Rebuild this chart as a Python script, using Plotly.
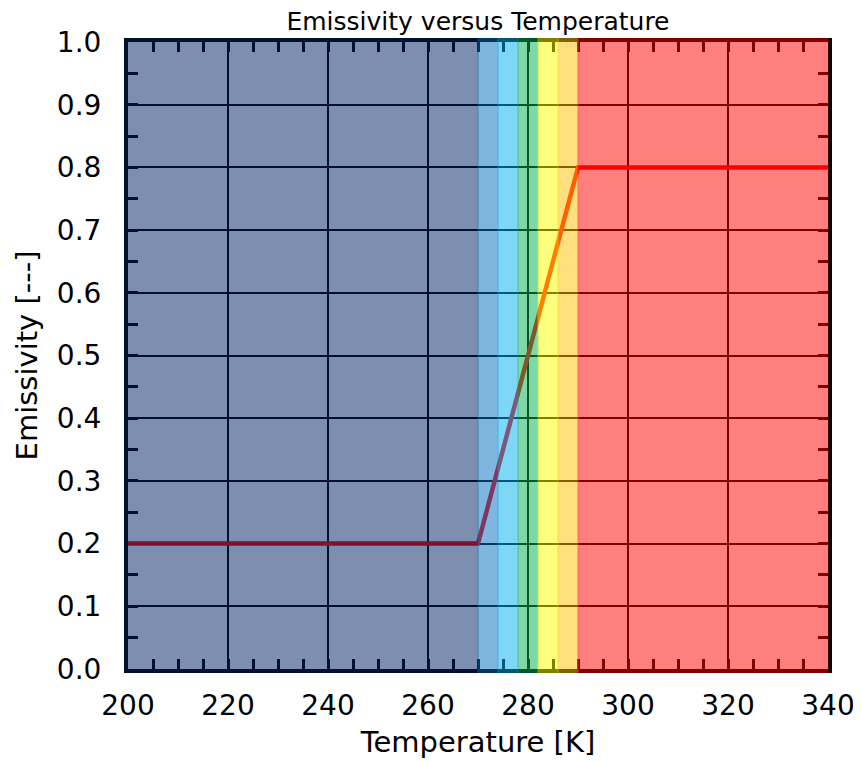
import plotly.graph_objects as go

# ---- data ----
temperature = [200, 270, 290, 340]
emissivity = [0.2, 0.2, 0.8, 0.8]

band_edges = [200, 270, 274, 278, 282, 286, 290, 340]
band_colors = ["#002060", "#0070C0", "#00B0F0", "#00B050", "#FFFF00", "#FFC000", "#FF0000"]

x_range = [200, 340]
y_range = [0.0, 1.0]
x_ticks = [200, 220, 240, 260, 280, 300, 320, 340]
y_ticks = [0.0, 0.1, 0.2, 0.3, 0.4, 0.5, 0.6, 0.7, 0.8, 0.9, 1.0]

FONT = "DejaVu Sans"
W, H = 861, 761
M = dict(l=120, r=41, t=34, b=100)
LW = 4
plot_w = W - M["l"] - M["r"]
plot_h = H - M["t"] - M["b"]

fig = go.Figure()
fig.add_trace(go.Scatter(x=temperature, y=emissivity, mode="lines",
                         line=dict(color="#FF0000", width=4.5),
                         showlegend=False, hoverinfo="skip", cliponaxis=False))

span = x_range[1] - x_range[0]
def xfrac(v):
    return (v - x_range[0]) / span

pad_x = (LW - 0.5) / plot_w
pad_y = (LW - 0.5) / plot_h
for i, c in enumerate(band_colors):
    x0 = xfrac(band_edges[i])
    x1 = xfrac(band_edges[i + 1])
    if i == 0:
        x0 -= pad_x
    fig.add_shape(type="rect", xref="paper", yref="paper",
                  x0=x0, x1=x1, y0=-pad_y, y1=1 + pad_y,
                  fillcolor=c, opacity=0.5, layer="above",
                  line=dict(color=c, width=1))

axis_common = dict(
    showline=True, linecolor="black", linewidth=LW, mirror="ticks",
    ticks="inside", ticklen=10, tickwidth=2.5, tickcolor="black",
    showgrid=True, gridcolor="black", gridwidth=1.5,
    zeroline=False, automargin=False, layer="below traces",
    tickfont=dict(family=FONT, size=28, color="black"),
)

fig.update_xaxes(range=x_range, tickvals=x_ticks, ticktext=[str(v) for v in x_ticks],
                 minor=dict(dtick=5, ticks="inside", ticklen=10, tickwidth=2.5,
                            tickcolor="black", showgrid=False),
                 title=dict(text="Temperature [K]", font=dict(family=FONT, size=29, color="black"),
                            standoff=12),
                 ticklabelstandoff=8,
                 **axis_common)
fig.update_yaxes(range=y_range, tickvals=y_ticks, ticktext=[f"{v:.1f}" for v in y_ticks],
                 minor=dict(dtick=0.05, ticks="inside", ticklen=10, tickwidth=2.5,
                            tickcolor="black", showgrid=False),
                 title=dict(text="Emissivity [---]", font=dict(family=FONT, size=29, color="black"),
                            standoff=12),
                 ticklabelstandoff=17,
                 **axis_common)

fig.update_layout(
    width=W, height=H,
    margin=M,
    paper_bgcolor="white", plot_bgcolor="white",
    title=dict(text="Emissivity versus Temperature", x=0.5, xref="paper",
               y=1 - 13 / H, yref="container", yanchor="middle",
               font=dict(family=FONT, size=25, color="black")),
    font=dict(family=FONT),
)

fig.write_html("out.html")
